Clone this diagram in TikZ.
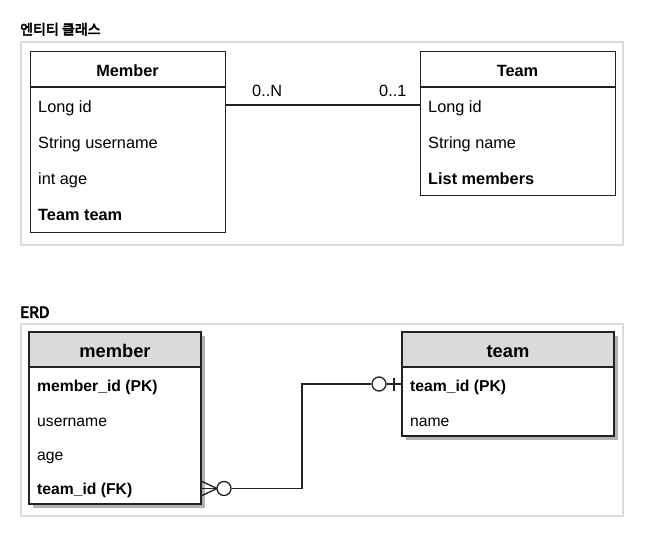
\documentclass[tikz,border=0pt]{standalone}
\usepackage{fontspec}
\setmainfont{Liberation Sans}
\newfontfamily\krfont{Noto Sans CJK KR}[AutoFakeBold=4]
\definecolor{hdrgray}{HTML}{DADADA}
\definecolor{framegray}{HTML}{DCDCDC}
\definecolor{linegray}{HTML}{222222}
\begin{document}
\begin{tikzpicture}[x=1pt,y=-1pt,
  frame/.style={draw=framegray, line width=1.5pt},
  ent/.style={draw=linegray, line width=1.3pt, fill=white, inner sep=0pt, anchor=north west},
  erent/.style={draw=linegray, line width=1.6pt, inner sep=0pt, outer sep=0pt, anchor=north west},
  shadowbox/.style={fill=black!30, draw=none},
  conn/.style={draw=linegray, line width=1.3pt},
  sectitle/.style={anchor=base west, inner sep=0pt, font=\krfont\bfseries},
  clsrow/.style={anchor=base west, inner sep=0pt, font=\fontsize{16.3}{18}\selectfont},
  clshdr/.style={anchor=base, inner sep=0pt, font=\fontsize{16.3}{18}\selectfont\bfseries},
  errow/.style={anchor=base west, inner sep=0pt, font=\fontsize{15.7}{18}\selectfont},
  erhdr/.style={anchor=base, inner sep=0pt, font=\fontsize{18.3}{20}\selectfont\bfseries},
  mult/.style={anchor=base west, inner sep=0pt, font=\fontsize{16.3}{18}\selectfont},
  ring/.style={circle, draw=linegray, line width=1.3pt, fill=white, minimum size=14pt, inner sep=0pt}
]
\useasboundingbox (0,0) rectangle (646,546);
\fill[white] (0,0) rectangle (646,546);

% ---------- entity classes ----------
\node[sectitle, font=\krfont\bfseries\fontsize{14}{16}\selectfont] (t1) at (20,34.5) {엔티티 클래스};
\draw[frame] (21,42) rectangle (623,245);

\node[ent, minimum width=195pt, minimum height=181pt] (Member) at (30,51) {};
\draw[conn] (30,87) -- (225,87);
\node[clshdr] (MemberH) at (127.5,76) {Member};
\node[clsrow] (m1) at (38,112) {Long id};
\node[clsrow] (m2) at (38,148) {String username};
\node[clsrow] (m3) at (38,184) {int age};
\node[clsrow, font=\fontsize{16.3}{18}\selectfont\bfseries] (m4) at (38,220) {Team team};

\node[ent, minimum width=195pt, minimum height=144pt] (Team) at (420,51) {};
\draw[conn] (420,87) -- (615,87);
\node[clshdr] (TeamH) at (517.5,76) {Team};
\node[clsrow] (t1r) at (428,112) {Long id};
\node[clsrow] (t2r) at (428,148) {String name};
\node[clsrow, font=\fontsize{16.3}{18}\selectfont\bfseries] (t3r) at (428,184) {List members};

\draw[conn] (Member.east |- 0,105) -- (Team.west |- 0,105);
\node[mult] (mN) at (252,96) {0..N};
\node[mult] (m1m) at (379,96) {0..1};

% ---------- ERD ----------
\node[sectitle, font=\krfont\bfseries\fontsize{15.3}{17}\selectfont] (t2) at (20,317.8) {ERD};
\draw[frame] (21,324) rectangle (623,516);

\fill[shadowbox] (33,336) rectangle (205,508);
\node[erent, fill=white, minimum width=172pt, minimum height=172pt] (member) at (29,332) {};
\fill[hdrgray] (member.north west) rectangle (member.east |- 0,367);
\draw[erent] (member.north west) rectangle (member.south east);
\draw[erent] (member.west |- 0,367) -- (member.east |- 0,367);
\node[erhdr] (memberH) at (115,357.6) {member};
\node[errow, font=\fontsize{15.7}{18}\selectfont\bfseries] (e1) at (37,391.7) {member\_id (PK)};
\node[errow] (e2) at (37,426) {username};
\node[errow] (e3) at (37,460.3) {age};
\node[errow, font=\fontsize{15.7}{18}\selectfont\bfseries] (e4) at (37,494.7) {team\_id (FK)};

\fill[shadowbox] (406,336) rectangle (618,440);
\node[erent, fill=white, minimum width=212pt, minimum height=104pt] (team) at (402,332) {};
\fill[hdrgray] (team.north west) rectangle (team.east |- 0,367);
\draw[erent] (team.north west) rectangle (team.south east);
\draw[erent] (team.west |- 0,367) -- (team.east |- 0,367);
\node[erhdr] (teamH) at (508,357.6) {team};
\node[errow, font=\fontsize{15.7}{18}\selectfont\bfseries] (f1) at (410,391.7) {team\_id (PK)};
\node[errow] (f2) at (410,426) {name};

% relationship: many (optional) member -- one (optional) team
\coordinate (cf) at (217,488.5);
\node[ring] (ringM) at (224,488.5) {};
\node[ring] (ringT) at (379,384) {};
\draw[conn] (member.east |- 0,481) -- (cf);
\draw[conn] (member.east |- 0,488.5) -- (cf);
\draw[conn] (member.east |- 0,496) -- (cf);
\draw[conn] (ringM.east) -- (302,488.5) -- (302,384) -- (ringT.west);
\draw[conn] (ringT.east) -- (team.west |- 0,384);
\draw[conn] (394,377.5) -- (394,390.5);
\end{tikzpicture}
\end{document}
